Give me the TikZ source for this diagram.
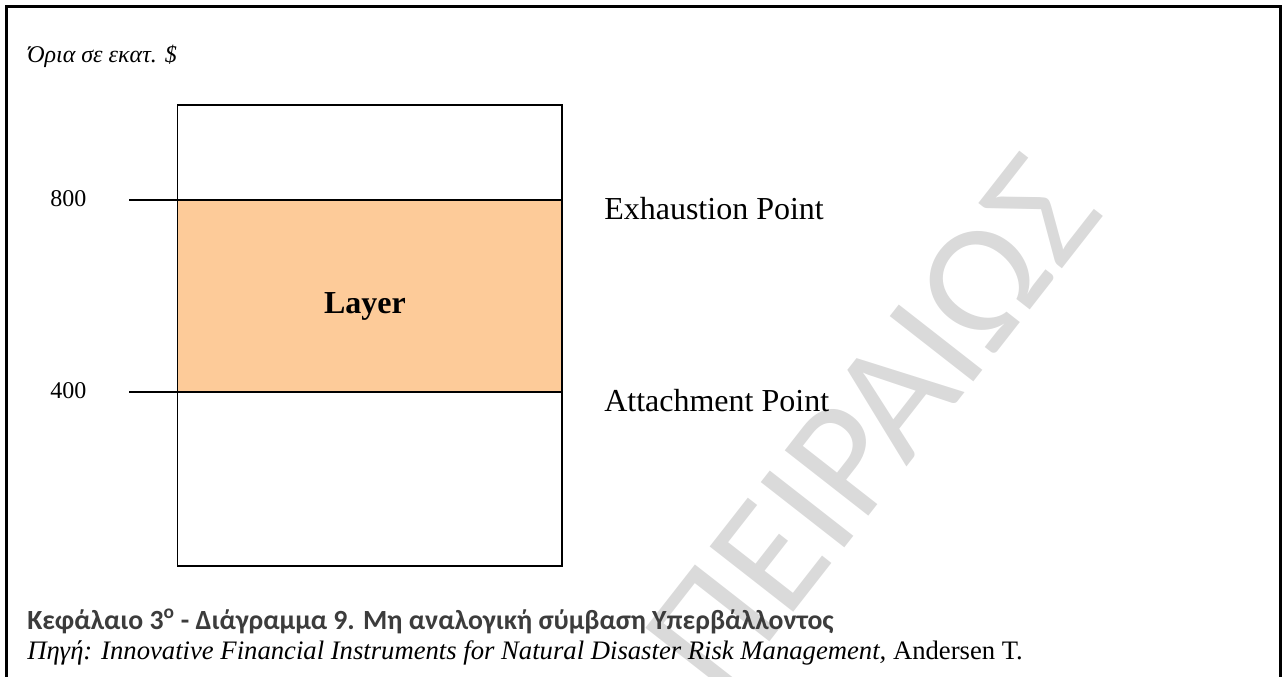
\documentclass[tikz,border=0pt]{standalone}
\usepackage{fontspec}
\setmainfont{Liberation Serif}
\newfontfamily\capfont{Carlito}
\definecolor{layerfill}{HTML}{FDCB99}
\definecolor{captiongray}{HTML}{3C3C3C}
\definecolor{wmgray}{HTML}{DADADA}
\tikzset{
  frameline/.style={line width=1.6pt, black},
  boxline/.style={line width=1.4pt, black},
  lbl/.style={inner sep=0pt, anchor=base west},
}
\begin{document}
\begin{tikzpicture}[x=0.75pt, y=-0.75pt]
\useasboundingbox (0,0) rectangle (1283,677);

% watermark
\node[text=wmgray, rotate=52, inner sep=0pt, font=\capfont\fontsize{124}{124}\selectfont] (wm) at (872,425) {ΠΕΙΡΑΙΩΣ};

% open frame (no bottom edge)
\draw[frameline] (6.5,677) -- (6.5,6.5) -- (1280.5,6.5) -- (1280.5,677);

% header
\node[lbl, font=\itshape\fontsize{18}{18}\selectfont] (hdr) at (27,63) {Όρια σε εκατ. \$};

% box and layer band
\fill[layerfill] (176.5,200) rectangle (561,392);
\node[draw, boxline, inner sep=0pt, minimum width=384.5*0.75pt, minimum height=461*0.75pt, anchor=north west] (box) at (176.5,104) {};
\coordinate (e1) at (129,200);
\coordinate (a1) at (129,392);
\draw[boxline] (e1) -- (e1 -| box.east);
\draw[boxline] (a1) -- (a1 -| box.east);

% labels
\node[lbl, font=\fontsize{18}{18}\selectfont] (v800) at (50,207) {800};
\node[lbl, font=\fontsize{18}{18}\selectfont] (v400) at (50,399) {400};
\node[inner sep=0pt, font=\bfseries\fontsize{24}{24}\selectfont] (layer) at (365,306) {Layer};
\node[lbl, font=\fontsize{24}{24}\selectfont] (exh) at (604,220) {Exhaustion Point};
\node[lbl, font=\fontsize{24}{24}\selectfont] (att) at (604,412) {Attachment Point};

% caption and source
\node[lbl, text=captiongray, font=\capfont\bfseries\fontsize{20.8}{20.8}\selectfont] (cap) at (27,629) {Κεφάλαιο 3\textsuperscript{o} - Διάγραμμα 9. Μη αναλογική σύμβαση Υπερβάλλοντος};
\node[lbl, font=\fontsize{20}{20}\selectfont] (src) at (27,659) {\textit{Πηγή: Innovative Financial Instruments for Natural Disaster Risk Management,} Andersen T.};
\end{tikzpicture}
\end{document}
